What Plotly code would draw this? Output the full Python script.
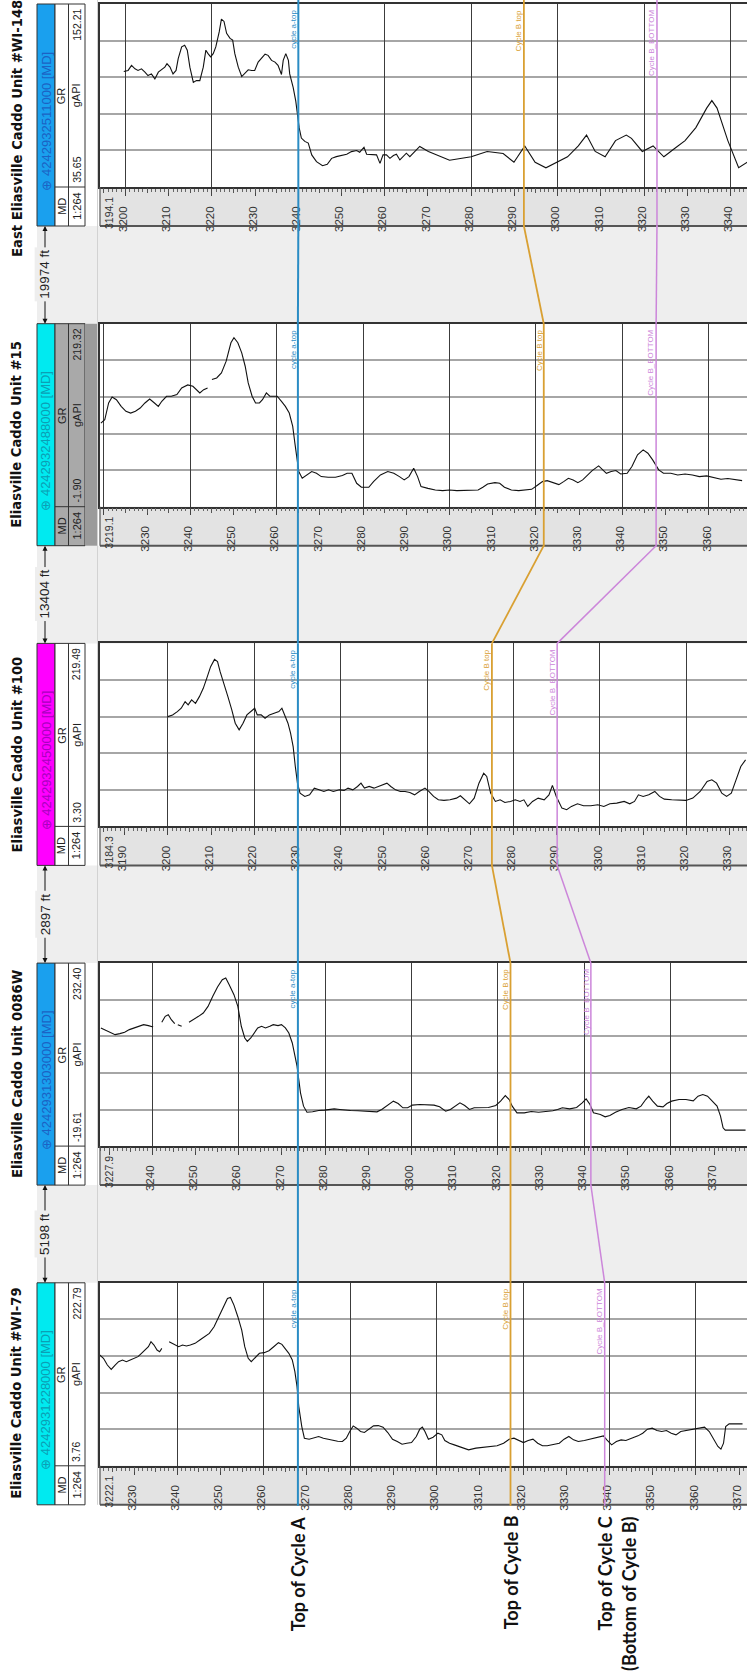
import math
import plotly.graph_objects as go

# ---------------- data ----------------
WELL_NAMES = ["East Eliasville Caddo Unit #WI-148", "Eliasville Caddo Unit #15",
              "Eliasville Caddo Unit #100", "Eliasville Caddo Unit 0086W",
              "Eliasville Caddo Unit #WI-79"]
WELL_UWI = ["4242932511000", "4242932488000", "4242932450000", "4242931303000", "4242931228000"]
MD_SCALE = "1:264"
GR_MIN = [35.65, -1.90, 3.30, -19.61, 3.76]
GR_MAX = [152.21, 219.32, 219.49, 232.40, 222.79]
TOP_DEPTH = [3194.1, 3219.1, 3184.3, 3227.9, 3222.1]
CYCLE_A_TOP = [3240.0, 3264.9, 3230.1, 3273.7, 3267.9]
CYCLE_B_TOP = [3292.2, 3321.8, 3275.0, 3322.9, 3317.1]
CYCLE_B_BOTTOM = [3323.0, 3347.8, 3290.1, 3341.5, 3338.9]
PICK_NAMES = ["cycle a-top", "Cycle B top", "Cycle B_BOTTOM"]
SPACING_LABELS = ["19974 ft", "13404 ft", "2897 ft", "5198 ft"]
MARKER_LABELS = ["Top of Cycle A", "Top of Cycle B", "Top of Cycle C<br>(Bottom of Cycle B)"]

DEPTH_WI148 = [3199.6, 3200.6, 3201.4, 3202.2, 3202.9, 3203.7, 3204.5, 3205.2, 3206.0, 3206.8,
               3207.6, 3208.3, 3209.1, 3209.6, 3210.3, 3211.0, 3211.7, 3212.2, 3213.0, 3213.7,
               3214.3, 3214.9, 3215.7, 3216.4, 3217.2, 3218.0, 3218.6, 3219.1, 3219.7, 3220.3,
               3220.9, 3221.7, 3222.2, 3222.8, 3223.4, 3224.2, 3224.8, 3225.3, 3226.1, 3226.9,
               3227.6, 3228.4, 3229.2, 3229.9, 3230.7, 3231.5, 3232.3, 3233.0, 3233.8, 3234.6,
               3235.3, 3236.1, 3236.5, 3237.1, 3237.7, 3238.0, 3238.8, 3239.4, 3239.7, 3240.2,
               3240.7, 3241.5, 3242.3, 3243.1, 3244.2, 3245.6, 3246.7, 3247.7, 3248.8, 3250.0,
               3251.2, 3252.3, 3253.5, 3254.2, 3255.2, 3255.8, 3256.9, 3258.1, 3258.9, 3259.6,
               3260.4, 3261.2, 3262.0, 3262.7, 3263.5, 3264.3, 3265.0, 3265.8, 3266.6, 3267.4,
               3268.1, 3270.1, 3275.0, 3280.0, 3283.7, 3287.4, 3289.9, 3292.4, 3294.8, 3297.3,
               3299.8, 3302.3, 3304.8, 3306.7, 3308.7, 3311.0, 3313.4, 3315.9, 3317.1, 3319.6,
               3322.1, 3324.6, 3327.0, 3329.5, 3332.0, 3334.5, 3335.7, 3336.9, 3339.4, 3341.9,
               3343.9]
GR_WI148 = [109.2, 109.9, 113.1, 110.9, 109.9, 110.9, 108.8, 106.6, 107.7, 104.5,
            108.8, 110.3, 112.0, 114.2, 112.0, 107.7, 109.9, 117.4, 124.9, 126.0,
            122.8, 112.0, 102.3, 103.4, 103.4, 112.0, 122.8, 120.6, 118.5, 120.6,
            124.9, 134.6, 142.6, 141.1, 133.5, 130.3, 129.2, 120.6, 112.0, 106.0,
            108.1, 110.3, 109.9, 109.9, 115.2, 117.4, 120.2, 119.5, 116.3, 115.2,
            113.1, 107.3, 116.3, 120.6, 116.3, 107.7, 99.1, 90.5, 84.0, 73.3,
            66.8, 64.7, 63.6, 56.1, 51.8, 49.2, 50.1, 53.9, 55.0, 55.7,
            56.5, 58.2, 58.9, 57.8, 61.0, 56.5, 56.5, 56.1, 50.7, 56.1,
            56.1, 53.9, 55.7, 56.5, 52.9, 55.0, 57.2, 55.0, 57.2, 59.3,
            61.5, 58.3, 52.7, 54.9, 58.3, 57.0, 51.4, 61.8, 51.4, 47.9,
            51.4, 54.9, 61.8, 68.7, 58.3, 54.9, 65.2, 68.7, 66.6, 58.3,
            61.8, 54.9, 60.0, 65.2, 73.5, 85.9, 90.7, 85.9, 65.2, 47.9,
            51.4]

DEPTH_WI15 = [3219.3, 3220.2, 3221.1, 3221.9, 3222.9, 3224.0, 3225.1, 3226.2, 3227.3, 3228.4,
              3229.5, 3230.6, 3231.7, 3232.6, 3233.4, 3234.5, 3235.6, 3236.9, 3238.0, 3239.4,
              3240.6, 3241.4, 3242.2, 3243.1, 3244.0, 3244.5, 3245.0, 3246.1, 3247.2, 3248.3,
              3249.4, 3250.1, 3251.0, 3251.9, 3252.7, 3253.4, 3254.3, 3255.1, 3256.0, 3256.7,
              3257.6, 3258.4, 3259.3, 3260.1, 3261.1, 3262.0, 3262.9, 3263.7, 3264.2, 3264.8,
              3265.1, 3265.9, 3267.0, 3268.1, 3269.2, 3270.3, 3271.9, 3273.6, 3275.2, 3276.3,
              3277.4, 3278.5, 3279.6, 3281.3, 3282.4, 3284.0, 3285.7, 3287.1, 3288.4, 3289.5,
              3290.6, 3291.7, 3292.6, 3293.4, 3295.0, 3296.7, 3298.4, 3300.0, 3301.7, 3303.3,
              3305.0, 3306.6, 3307.7, 3308.8, 3310.5, 3311.6, 3312.7, 3314.3, 3316.0, 3317.6,
              3319.0, 3320.4, 3321.5, 3322.6, 3323.9, 3325.3, 3326.4, 3327.5, 3328.6, 3329.7,
              3330.8, 3331.9, 3333.0, 3334.5, 3335.3, 3336.3, 3337.4, 3338.5, 3339.6, 3341.1,
              3342.2, 3343.5, 3344.8, 3345.9, 3347.0, 3348.4, 3349.5, 3351.2, 3352.8, 3354.5,
              3356.2, 3357.8, 3359.5, 3361.1, 3362.8, 3364.4, 3366.1, 3367.7]
GR_WI15 = [99.2, 103.2, 123.5, 130.7, 127.5, 119.4, 113.4, 111.3, 113.4, 117.4,
           123.5, 128.3, 123.5, 119.4, 125.5, 131.6, 131.6, 133.6, 141.7, 145.3,
           143.7, 139.6, 135.6, 139.6, 141.7, None, 151.8, 153.8, 159.9, 174.0,
           196.3, 202.3, 196.3, 184.1, 167.9, 147.7, 131.6, 123.5, 123.5, 127.5,
           135.6, 131.6, 131.6, 131.6, 125.5, 119.4, 111.3, 95.2, 74.9, 54.7,
           40.6, 32.5, 36.5, 40.6, 38.5, 34.5, 33.7, 33.7, 35.7, 38.5,
           38.5, 26.4, 21.6, 21.6, 28.4, 36.5, 40.6, 38.5, 34.5, 30.5,
           34.5, 44.6, 34.5, 22.4, 20.3, 18.3, 17.5, 18.3, 17.5, 17.5,
           18.3, 18.3, 21.6, 25.6, 27.2, 26.4, 21.6, 18.3, 17.5, 18.3,
           19.1, 24.4, 28.4, 29.6, 27.6, 24.8, 28.4, 32.5, 30.5, 27.2,
           30.5, 36.5, 41.8, 47.4, 43.4, 38.5, 40.6, 41.8, 37.7, 38.5,
           46.6, 60.8, 66.8, 62.8, 54.7, 42.6, 38.5, 38.5, 36.5, 37.7,
           36.5, 34.5, 35.3, 33.3, 31.3, 32.1, 30.5, 29.6]

DEPTH_100 = [3200.0, 3201.1, 3202.2, 3203.1, 3204.0, 3204.7, 3205.5, 3206.4, 3207.3, 3208.2,
             3209.0, 3209.9, 3210.8, 3211.5, 3212.1, 3213.0, 3213.9, 3214.8, 3215.6, 3216.5,
             3217.4, 3218.3, 3219.2, 3220.1, 3220.7, 3221.6, 3222.5, 3223.5, 3224.6, 3225.7,
             3226.4, 3227.1, 3227.8, 3228.4, 3229.0, 3229.5, 3230.0, 3230.6, 3231.7, 3232.8,
             3233.9, 3235.0, 3236.1, 3237.2, 3238.3, 3239.7, 3240.8, 3241.7, 3242.8, 3243.9,
             3244.7, 3245.5, 3246.6, 3247.7, 3248.8, 3249.9, 3250.7, 3251.6, 3252.7, 3253.8,
             3254.9, 3256.0, 3257.1, 3258.2, 3259.5, 3260.4, 3261.5, 3262.6, 3263.9, 3265.3,
             3266.8, 3267.7, 3268.7, 3269.8, 3270.9, 3272.0, 3273.1, 3273.8, 3274.7, 3275.8,
             3276.9, 3278.0, 3279.3, 3280.4, 3281.5, 3282.4, 3283.3, 3284.4, 3285.7, 3287.1,
             3288.2, 3289.0, 3289.9, 3291.2, 3292.3, 3293.4, 3294.8, 3296.2, 3297.9, 3299.5,
             3300.9, 3302.3, 3303.9, 3305.6, 3306.9, 3308.0, 3308.9, 3310.0, 3311.3, 3312.7,
             3313.8, 3314.9, 3316.6, 3318.2, 3319.9, 3321.5, 3323.2, 3324.8, 3325.9, 3327.0,
             3328.2, 3329.3, 3330.4, 3331.5, 3332.6, 3333.7]
GR_100 = [133.0, 135.0, 138.9, 142.9, 150.7, 146.8, 152.7, 148.7, 156.6, 166.4,
          178.2, 192.0, 200.6, 197.9, 186.1, 172.3, 156.6, 140.9, 125.2, 117.3,
          125.2, 135.0, 138.9, 142.9, 135.0, 135.0, 131.1, 135.0, 137.0, 138.9,
          142.9, 135.0, 125.2, 113.4, 97.6, 74.1, 54.4, 42.6, 38.7, 40.6,
          48.5, 46.5, 44.6, 46.5, 44.6, 46.5, 45.8, 48.5, 46.5, 50.5,
          54.4, 48.5, 50.5, 48.5, 50.5, 52.4, 54.4, 50.5, 46.5, 44.6,
          44.6, 43.4, 40.6, 44.6, 48.5, 44.6, 38.7, 34.7, 34.0, 34.7,
          36.7, 39.5, 34.7, 30.0, 36.7, 54.4, 66.2, 62.3, 42.6, 32.8,
          34.7, 31.6, 32.8, 34.7, 32.8, 34.7, 26.9, 32.8, 36.7, 34.7,
          40.6, 51.7, 38.7, 24.9, 23.0, 26.9, 30.0, 27.7, 27.7, 28.9,
          26.9, 30.0, 30.8, 32.8, 30.0, 32.8, 40.6, 38.7, 40.6, 44.6,
          38.7, 35.5, 34.7, 34.0, 34.0, 36.7, 44.6, 56.4, 58.3, 54.4,
          42.6, 38.7, 42.6, 58.3, 74.1, 81.9]

DEPTH_0086W = [3228.1, 3229.2, 3230.3, 3231.4, 3232.5, 3233.6, 3234.7, 3235.8, 3236.9, 3238.0,
               3239.1, 3240.2, 3241.2, 3242.2, 3243.0, 3243.7, 3244.4, 3245.2, 3245.5, 3245.9,
               3246.8, 3247.6, 3248.5, 3249.6, 3250.7, 3251.8, 3252.9, 3254.0, 3255.1, 3256.2,
               3257.0, 3257.8, 3258.9, 3259.8, 3260.6, 3261.4, 3262.0, 3262.8, 3263.6, 3264.4,
               3265.3, 3266.2, 3267.2, 3268.0, 3269.1, 3269.9, 3270.8, 3271.6, 3272.4, 3273.0,
               3273.5, 3273.9, 3274.3, 3275.0, 3275.8, 3277.1, 3278.5, 3279.9, 3281.0, 3282.1,
               3283.4, 3284.5, 3285.9, 3287.6, 3289.2, 3290.9, 3292.0, 3293.1, 3294.4, 3295.8,
               3296.9, 3298.0, 3299.1, 3300.2, 3301.9, 3303.5, 3305.2, 3306.5, 3307.9, 3309.0,
               3310.1, 3311.2, 3312.3, 3313.4, 3314.5, 3316.2, 3317.8, 3319.5, 3320.6, 3321.7,
               3322.6, 3323.3, 3324.4, 3326.1, 3327.7, 3329.4, 3331.0, 3332.7, 3333.8, 3334.9,
               3336.6, 3338.2, 3339.5, 3340.4, 3341.3, 3342.1, 3343.7, 3344.8, 3345.9, 3347.2,
               3348.7, 3350.3, 3352.0, 3353.1, 3354.2, 3354.9, 3355.8, 3356.9, 3358.2, 3359.1,
               3360.2, 3361.9, 3363.5, 3365.2, 3366.3, 3367.4, 3368.5, 3369.6, 3370.7, 3371.5,
               3372.1, 3372.6, 3374.0, 3375.6, 3377.3]
GR_0086W = [143.1, 139.9, 137.1, 133.9, 135.3, 137.1, 140.8, 143.1, 146.3, 147.6,
            146.3, 144.4, None, 150.9, 159.1, 161.4, 154.5, 149.0, None, 147.6,
            145.4, None, 150.9, 154.5, 159.1, 163.7, 172.8, 186.6, 199.4, 209.5,
            211.8, 202.6, 188.9, 172.8, 145.4, 129.3, 124.7, 129.3, 136.2, 143.1,
            145.4, 143.1, 145.4, 147.6, 146.3, 147.6, 143.1, 136.2, 122.4, 104.1,
            90.4, 72.0, 53.7, 35.4, 27.1, 27.6, 29.4, 29.9, 30.8, 31.7,
            30.8, 29.9, 29.4, 29.0, 28.5, 28.1, 27.6, 30.8, 36.3, 42.3,
            39.0, 33.1, 33.1, 36.8, 37.7, 37.7, 36.8, 34.5, 28.5, 30.8,
            35.4, 40.0, 36.3, 30.8, 33.1, 33.1, 33.6, 36.3, 42.3, 50.0,
            44.5, 35.4, 26.2, 26.2, 28.1, 27.1, 28.1, 29.0, 30.8, 33.1,
            31.7, 33.6, 40.0, 45.5, 37.7, 26.2, 23.9, 20.7, 22.6, 27.1,
            30.8, 33.6, 31.7, 35.4, 44.5, 49.1, 42.3, 35.4, 34.5, 39.0,
            42.3, 44.5, 44.5, 42.7, 49.1, 51.4, 49.1, 42.3, 35.4, 21.6,
            5.6, 2.4, 2.4, 2.4, 2.4]

DEPTH_WI79 = [3222.0, 3222.9, 3223.8, 3224.7, 3225.6, 3226.4, 3227.3, 3228.2, 3229.1, 3230.0,
              3230.9, 3231.7, 3232.6, 3233.3, 3233.9, 3234.6, 3235.3, 3235.9, 3236.4, 3237.2,
              3238.1, 3238.8, 3239.4, 3240.3, 3241.2, 3242.1, 3243.0, 3244.1, 3245.2, 3246.3,
              3247.4, 3248.5, 3249.6, 3250.7, 3251.6, 3252.3, 3253.1, 3254.0, 3254.9, 3255.6,
              3256.4, 3257.1, 3257.9, 3259.0, 3260.1, 3261.2, 3262.3, 3263.4, 3264.2, 3265.0,
              3265.8, 3266.6, 3267.2, 3267.7, 3268.1, 3268.8, 3269.4, 3270.5, 3271.6, 3272.7,
              3273.8, 3274.9, 3276.0, 3277.1, 3278.2, 3279.1, 3279.9, 3280.7, 3281.5, 3282.4,
              3283.3, 3284.3, 3285.4, 3286.5, 3287.6, 3288.7, 3289.8, 3290.9, 3292.0, 3293.1,
              3294.2, 3295.3, 3296.1, 3296.7, 3297.3, 3298.1, 3299.2, 3300.3, 3301.2, 3301.9,
              3303.0, 3304.1, 3305.2, 3306.3, 3307.4, 3309.1, 3310.7, 3312.4, 3314.0, 3315.5,
              3316.8, 3317.9, 3319.0, 3320.1, 3321.2, 3322.3, 3323.4, 3324.5, 3325.6, 3326.9,
              3328.4, 3329.5, 3330.6, 3331.7, 3332.8, 3334.2, 3335.5, 3336.6, 3337.7, 3338.6,
              3339.4, 3340.5, 3341.6, 3342.7, 3343.8, 3345.2, 3346.6, 3347.7, 3348.8, 3349.9,
              3351.0, 3352.1, 3353.2, 3354.3, 3355.4, 3356.5, 3357.6, 3358.7, 3359.8, 3360.9,
              3362.0, 3363.1, 3364.2, 3365.1, 3365.8, 3366.4, 3366.9, 3367.7, 3369.1, 3370.8]
GR_WI79 = [136.4, 132.4, 124.4, 119.2, 124.4, 128.4, 130.4, 128.4, 130.4, 132.4,
           134.4, 138.4, 142.3, 146.3, 152.3, 148.3, 142.3, 140.3, 144.3, None,
           152.3, 150.3, 148.3, 146.3, 148.3, 147.1, 148.3, 150.3, 154.3, 158.3,
           162.2, 170.2, 182.2, 196.1, 204.1, 205.3, 196.1, 182.2, 166.2, 146.3,
           132.4, 128.4, 132.4, 138.4, 139.2, 141.5, 146.3, 151.1, 149.1, 144.3,
           138.4, 130.4, 116.5, 98.5, 74.6, 50.7, 36.8, 35.6, 36.8, 38.8,
           36.8, 35.6, 34.0, 33.2, 32.8, 36.8, 44.8, 51.5, 48.8, 44.8,
           43.6, 47.6, 51.5, 51.9, 50.0, 43.6, 35.6, 32.8, 29.6, 30.8,
           31.6, 38.8, 47.6, 50.0, 44.8, 35.6, 38.0, 42.8, 40.8, 34.0,
           30.8, 28.8, 26.9, 24.9, 22.9, 24.9, 25.7, 26.1, 27.7, 30.8,
           35.6, 36.8, 34.0, 31.6, 34.0, 35.6, 30.8, 27.7, 27.7, 28.8,
           30.8, 35.6, 38.8, 34.8, 32.8, 34.0, 35.6, 36.8, 38.0, 39.6,
           34.8, 28.8, 32.8, 34.8, 34.0, 36.8, 39.6, 42.8, 47.6, 48.8,
           46.0, 44.8, 46.0, 42.8, 40.8, 44.8, 46.0, 46.8, 47.6, 48.8,
           50.0, 44.8, 34.8, 26.9, 23.7, 30.8, 50.7, 53.9, 53.9, 53.9]

CURVES = [(DEPTH_WI148, GR_WI148), (DEPTH_WI15, GR_WI15), (DEPTH_100, GR_100),
          (DEPTH_0086W, GR_0086W), (DEPTH_WI79, GR_WI79)]

# ---------------- layout / style ----------------
W, H = 747, 1679
X_TRACK = 100          # left edge of the log tracks (px)
FT_PX = 4.321          # depth scale, px per foot
SPAN_FT = (W - X_TRACK) / FT_PX
STRIP_TOP = 4.0
STRIP_STEP = 319.7
TRACK_H = 183.0
BAND_H = 39.0
NAME_SHIFT = [14, 0, 0, 0, 0]
HEADER_FILL = ["#1aa0ee", "#00eaf0", "#ff00ff", "#1aa0ee", "#00eaf0"]
HEADER_TEXT = ["#1c62c4", "#0b9fb4", "#a800c0", "#1c62c4", "#0b9fb4"]
HEADER_SELECTED = [False, True, False, False, False]
BLUE, ORANGE, VIOLET = "#2a8cc4", "#d9a032", "#cc86da"
GAP_BG = "#eeeeee"
SANS = "Liberation Sans, Arial, sans-serif"


def px(x):
    return x / W


def py(y):
    return 1 - y / H


def strip(i):
    t = STRIP_TOP + i * STRIP_STEP
    return t, t + TRACK_H, t + TRACK_H + BAND_H


fig = go.Figure()
layout = dict(width=W, height=H, margin=dict(l=0, r=0, t=0, b=0),
              paper_bgcolor="white", plot_bgcolor="white",
              showlegend=False, hovermode=False)
shapes, annots = [], []


def rect(x0, y0, x1, y1, fill, line="#333", lw=1, layer="below"):
    shapes.append(dict(type="rect", xref="paper", yref="paper",
                       x0=px(x0), x1=px(x1), y0=py(y1), y1=py(y0),
                       fillcolor=fill, line=dict(color=line, width=lw), layer=layer))


def pline(x0, y0, x1, y1, color, lw=1, layer="above"):
    shapes.append(dict(type="line", xref="paper", yref="paper",
                       x0=px(x0), x1=px(x1), y0=py(y0), y1=py(y1),
                       line=dict(color=color, width=lw), layer=layer))


def txt(x, y, text, size, color="#222", xanchor="center", yanchor="middle",
        family=SANS, **kw):
    annots.append(dict(xref="paper", yref="paper", x=px(x), y=py(y), text=text,
                       showarrow=False, textangle=-90, xanchor=xanchor,
                       yanchor=yanchor, font=dict(family=family, size=size, color=color), **kw))


# gap backgrounds
for i in range(4):
    _, _, b = strip(i)
    t2, _, _ = strip(i + 1)
    rect(37, b, W + 2, t2, GAP_BG, line=GAP_BG, lw=0)
last_b = strip(4)[2]
pline(97.5, 0, 97.5, last_b, "#d2d2d2", 1, layer="below")

for i in range(5):
    k = i + 1
    T, TB, B = strip(i)
    x0 = TOP_DEPTH[i]
    x1 = x0 + SPAN_FT
    xid = "x" if k == 1 else f"x{k}"
    yid = "y" if k == 1 else f"y{k}"
    xname = "xaxis" if k == 1 else f"xaxis{k}"
    yname = "yaxis" if k == 1 else f"yaxis{k}"
    gid, gname = f"x{k + 5}", f"xaxis{k + 5}"
    first = int(math.ceil(x0 / 10.0) * 10)
    tv = list(range(first, int(x1) + 1, 10))
    tt = ["" if v - x0 < 4 else str(v) for v in tv]
    dom_x = [px(X_TRACK), 1.0]
    layout[xname] = dict(domain=dom_x, range=[x0, x1], anchor=yid,
                         tickmode="array", tickvals=tv, ticktext=tt,
                         ticks="outside", ticklen=7, tickwidth=1, tickcolor="#444",
                         tickangle=-90, tickfont=dict(family=SANS, size=11.5, color="#333"),
                         ticklabelstandoff=6, ticklabelshift=-2,
                         showgrid=False, zeroline=False, showline=True,
                         linecolor="#333", linewidth=1.5, mirror=True,
                         minor=dict(tickmode="linear", tick0=0, dtick=1, ticks="outside",
                                    ticklen=3, tickwidth=1, tickcolor="#666", showgrid=False))
    layout[gname] = dict(domain=dom_x, range=[x0, x1], anchor=yid, overlaying=xid,
                         tickmode="linear", tick0=0, dtick=20, ticks="",
                         showticklabels=False, showgrid=True, gridcolor="#3c3c3c",
                         gridwidth=1, zeroline=False, showline=False,
                         minor=dict(tickmode="linear", tick0=0, dtick=5, ticks="outside",
                                    ticklen=5, tickwidth=1, tickcolor="#555", showgrid=False))
    layout[yname] = dict(domain=[py(TB), py(T)], range=[GR_MIN[i], GR_MAX[i]],
                         anchor=xid, tickmode="linear", tick0=GR_MIN[i],
                         dtick=(GR_MAX[i] - GR_MIN[i]) / 5, showticklabels=False,
                         ticks="", showgrid=True, gridcolor="#a6a6a6", gridwidth=1.5,
                         zeroline=False, showline=True, linecolor="#333", linewidth=1.5)

    depth, gr = CURVES[i]
    fig.add_trace(go.Scatter(x=depth, y=gr, mode="lines", xaxis=xid, yaxis=yid,
                             line=dict(color="#111111", width=1.1), hoverinfo="skip",
                             connectgaps=False))
    fig.add_trace(go.Scatter(x=[x0], y=[GR_MIN[i]], mode="markers", xaxis=gid, yaxis=yid,
                             marker=dict(opacity=0), hoverinfo="skip"))

    # depth band
    rect(X_TRACK, TB, W + 2, B, "#e3e3e3", line="#e3e3e3", lw=0)
    pline(X_TRACK, B, W, B, "#555555", 2)
    pline(X_TRACK, TB, X_TRACK, B, "#555555", 1.2)
    annots.append(dict(xref=xid, yref="paper", x=x0, y=py(TB + 8), text=f"{x0:.1f}",
                       showarrow=False, textangle=-90, xanchor="left", yanchor="top",
                       xshift=1, font=dict(family=SANS, size=10.5, color="#333")))

    # header
    rect(37, T, 55, B, HEADER_FILL[i], line="#333", lw=1, layer="above")
    if HEADER_SELECTED[i]:
        rect(55, T, 85, B, "#a9a9a9", line="#333", lw=1, layer="above")
        rect(85, T, 97, B, "#9b9b9b", line="#9b9b9b", lw=0, layer="above")
    else:
        rect(55, T, 85, B, "white", line="#333", lw=1, layer="above")
    pline(68.5, T, 68.5, B, "#333", 1)
    pline(55, TB, 85, TB, "#333", 1)
    txt(46, B - 33, f"⊕ {WELL_UWI[i]} [MD]", 13, HEADER_TEXT[i], yanchor="bottom")
    txt(61.8, B - 20, "MD", 11)
    txt(76.8, B - 20, MD_SCALE, 11)
    txt(61.8, T + TRACK_H / 2, "GR", 11)
    txt(76.8, T + TRACK_H / 2, "gAPI", 11)
    txt(76.8, TB - 2, f"{GR_MIN[i]:.2f}", 10.5, yanchor="bottom")
    txt(76.8, T + 3, f"{GR_MAX[i]:.2f}", 10.5, yanchor="top")
    txt(17, T + 111 + NAME_SHIFT[i], "<b>" + WELL_NAMES[i] + "</b>", 13.2, "#111",
        family="DejaVu Sans")

    # pick labels
    for pick, name, col in [(CYCLE_A_TOP, PICK_NAMES[0], BLUE),
                            (CYCLE_B_TOP, PICK_NAMES[1], ORANGE),
                            (CYCLE_B_BOTTOM, PICK_NAMES[2], VIOLET)]:
        annots.append(dict(xref=xid, yref="paper", x=pick[i], y=py(T + 4), text=name,
                           showarrow=False, textangle=-90, xanchor="center",
                           yanchor="top", xshift=-5,
                           font=dict(family=SANS, size=8, color=col)))

# correlation lines
for pick, col, lw in [(CYCLE_A_TOP, BLUE, 2), (CYCLE_B_TOP, ORANGE, 1.8),
                      (CYCLE_B_BOTTOM, VIOLET, 1.5)]:
    for i in range(5):
        T, TB, B = strip(i)
        xid = "x" if i == 0 else f"x{i + 1}"
        top = 0 if i == 0 else T
        shapes.append(dict(type="line", xref=xid, yref="paper", x0=pick[i], x1=pick[i],
                           y0=py(top), y1=py(B + 1), line=dict(color=col, width=lw),
                           layer="above"))
        if i < 4:
            t2 = strip(i + 1)[0]
            xn = TOP_DEPTH[i] + (pick[i + 1] - TOP_DEPTH[i + 1])
            shapes.append(dict(type="line", xref=xid, yref="paper", x0=pick[i], x1=xn,
                               y0=py(B), y1=py(t2), line=dict(color=col, width=lw),
                               layer="above"))

# spacing arrows
for i in range(4):
    _, _, b = strip(i)
    t2 = strip(i + 1)[0]
    mid = (b + t2) / 2
    half = (t2 - b) / 2
    for tip, ay in [(b, half), (t2, -half)]:
        annots.append(dict(xref="paper", yref="paper", x=px(45), y=py(tip), text="",
                           showarrow=True, ax=0, ay=ay, arrowhead=2, arrowsize=1,
                           arrowwidth=1, arrowcolor="#111"))
    txt(45, mid, SPACING_LABELS[i], 13.5, "#222", bgcolor=GAP_BG, borderpad=2)

# marker labels at the bottom
lb = strip(4)[2]
for pick, text, shift in [(CYCLE_A_TOP, MARKER_LABELS[0], 0),
                          (CYCLE_B_TOP, MARKER_LABELS[1], 0),
                          (CYCLE_B_BOTTOM, MARKER_LABELS[2], 12)]:
    annots.append(dict(xref="x5", yref="paper", x=pick[4], y=py(lb + 9),
                       text="<b>" + text + "</b>", showarrow=False, textangle=-90,
                       xanchor="center", yanchor="top", align="right", xshift=shift,
                       font=dict(family="Lato, sans-serif", size=18, color="#111")))

layout["shapes"] = shapes
layout["annotations"] = annots
fig.update_layout(**layout)
fig.write_html("out.html", config={"displayModeBar": False},
               post_script="document.body.style.margin='0px';")
